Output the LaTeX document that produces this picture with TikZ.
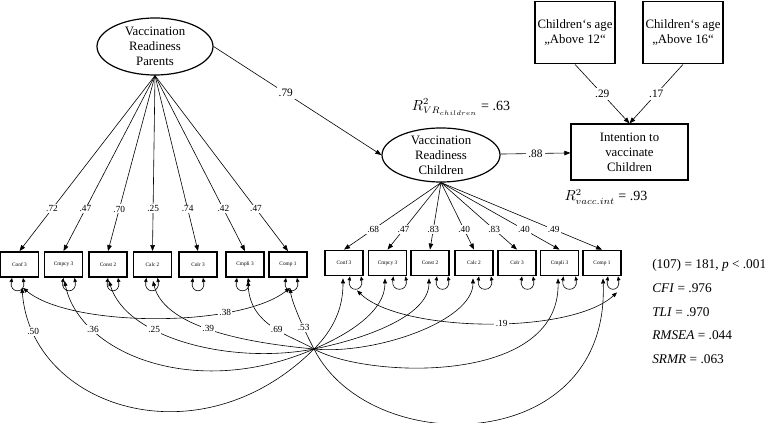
\documentclass[tikz,border=0pt]{standalone}
\usepackage{fontspec}
\setmainfont{Liberation Serif}
\usetikzlibrary{arrows.meta,calc,shapes.geometric}

\begin{document}
\begin{tikzpicture}[x=0.75pt,y=-0.75pt,line width=0.45pt,>={Triangle[length=4.5pt,width=3.4pt]},
  latent/.style={draw,ellipse,line width=0.9pt,align=center,inner xsep=0pt,inner ysep=-2pt,font=\fontsize{9.6}{11.3}\selectfont},
  manifest/.style={draw,line width=0.9pt,align=center,inner xsep=1pt,font=\fontsize{9.6}{11.3}\selectfont},
  indic/.style={draw,line width=1.1pt,minimum width=28.5pt,minimum height=19pt,inner sep=0pt,font=\fontsize{4}{5}\selectfont},
  coef/.style={fill=white,inner sep=1pt,font=\fontsize{7}{8}\selectfont},
  bigcoef/.style={fill=white,inner sep=1.5pt,font=\fontsize{8.5}{10}\selectfont},
  errvar/.style={>={Triangle[length=3pt,width=2.6pt]},<->},
  corr/.style={>={Triangle[length=3.8pt,width=3pt]},<->}]
\useasboundingbox (0,0) rectangle (765,423);

\node[latent,minimum width=87pt,minimum height=42.75pt] (vrp) at (155,46.5) {Vaccination\\Readiness\\Parents};
\node[latent,minimum width=88.5pt,minimum height=40.5pt] (vrc) at (441,155) {Vaccination\\Readiness\\Children};
\node[manifest,minimum width=87.75pt,minimum height=42pt] (intent) at (629.5,152) {Intention to\\vaccinate\\Children};
\node[manifest,minimum width=60pt,minimum height=47pt] (age12) at (575,32.5) {Children‘s age\\„Above 12“};
\node[manifest,minimum width=60pt,minimum height=47pt] (age16) at (683,32.5) {Children‘s age\\„Above 16“};

\node[font=\fontsize{10.5}{12}\selectfont] (r2c) at (461,107) {$R^2_{VR_{children}}$ = .63};
\node[font=\fontsize{10.5}{12}\selectfont] (r2i) at (606,197) {$R^2_{vacc.int}$ = .93};
\node[anchor=north west,align=left,inner sep=0pt,font=\fontsize{10}{17.8}\selectfont] (fit) at (652,259)
  {(107) = 181, \textit{p} < .001\\\textit{CFI} = .976\\\textit{TLI} = .970\\\textit{RMSEA} = .044\\\textit{SRMR} = .063};

\draw[->] (vrp.east) -- node[bigcoef,pos=0.43] {.79} (vrc.west);
\draw[->] (vrc) -- node[bigcoef] {.88} (intent);
\draw[->] (age12.south) -- node[bigcoef] {.29} (intent.north);
\draw[->] (age16.south) -- node[bigcoef] {.17} (intent.north);

\foreach \i/\x/\t in {1/19.5/Conf 3,2/63.5/Cmpcy 3,3/108/Const 2,4/152.5/Calc 2,5/198/Colr 3,6/245/Cmpli 3,7/288/Comp 1}
  \node[indic] (p\i) at (\x,264.5) {\t};
\foreach \i/\x/\t in {1/344/Conf 3,2/387.5/Cmpcy 3,3/430/Const 2,4/474/Calc 2,5/517/Colr 3,6/559.5/Cmpli 3,7/602/Comp 1}
  \node[indic] (c\i) at (\x,263) {\t};

\foreach \i/\v in {1/.72,2/.47,3/.70,4/.25,5/.74,6/.42,7/.47}
  \draw[->] (vrp.south) -- node[coef,pos=0.76] {\v} (p\i.north);
\foreach \i/\v in {1/.68,2/.47,3/.83,4/.40,5/.83,6/.40,7/.49}
  \draw[->] (vrc.south) -- node[coef,pos=0.70] {\v} (c\i.north);

\foreach \i/\a/\b in {1/-7.5/3.5,2/0/11,3/0/10,4/-6/5,5/-5/5,6/-8/3,7/-2/9}
  \draw[errvar] ($(p\i.south)+(\a,0)$) .. controls +(-3,16) and +(3,16) .. ($(p\i.south)+(\b,0)$);
\foreach \i/\a/\b in {1/6/17,2/6/18,3/7/18,4/5/17,5/5/16,6/4/16,7/6/16}
  \draw[errvar] ($(c\i.south)+(\a,0)$) .. controls +(-3,16) and +(3,16) .. ($(c\i.south)+(\b,0)$);

\coordinate (hub) at (314,349);
\draw[corr] ($(p1.south)+(2.5,10)$) .. controls +(9,120) and +(-114,114) .. (hub) node[coef,pos=0.13] {.50}
  .. controls +(25,-25) and +(0,22) .. ($(c1.south)+(-1,2)$);
\draw[corr] ($(p2.south)+(1,3)$) .. controls +(15,72) and +(-120,52) .. (hub) node[coef,pos=0.25] {.36}
  .. controls +(35,-15) and +(0,33) .. ($(c2.south)+(-2.5,2)$);
\draw[corr] ($(p3.south)+(1,3)$) .. controls +(17,57) and +(-84,16) .. (hub) node[coef,pos=0.35] {.25}
  .. controls +(50,-10) and +(0,38) .. ($(c3.south)+(-1,2)$);
\draw[corr] ($(p4.south)+(0.5,3)$) .. controls +(12,50) and +(-54,-5) .. (hub) node[coef,pos=0.45] {.39}
  .. controls +(60,6) and +(0,43) .. ($(c4.south)+(-1,2)$);
\draw[corr] ($(p6.south)+(3,3)$) .. controls +(2,45) and +(-24,-14) .. (hub) node[coef,pos=0.55] {.69}
  .. controls +(51,29) and +(2,108) .. ($(c6.south)+(-1.5,2)$);
\draw[corr] ($(p7.south)+(2,10)$) .. controls +(2,15) and +(-9,-17) .. (hub) node[coef,pos=0.65] {.53}
  .. controls +(56,111) and +(7,178) .. ($(c7.south)+(1,2)$);
\draw[corr] ($(p1.south)+(3.5,10)$) .. controls +(48,40) and +(-50,40) .. ($(p7.south)+(2,10)$) node[coef,pos=0.72] {.38};
\draw[corr] ($(c1.south)+(13,14)$) .. controls +(43,42) and +(-47,43) .. ($(c7.south)+(15,16)$) node[coef,pos=0.55] {.19};
\end{tikzpicture}
\end{document}
